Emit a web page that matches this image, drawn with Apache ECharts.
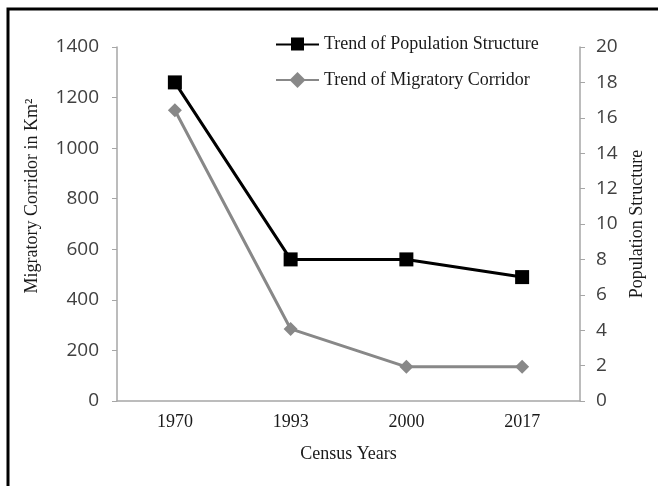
<!DOCTYPE html>
<html><head><meta charset="utf-8">
<script src="https://cdn.jsdelivr.net/npm/echarts@6/dist/echarts.min.js"></script>
<style>html,body{margin:0;padding:0;background:#fff}#c{width:658px;height:486px}</style>
</head><body><div id="c"></div>
<script>
const years = ['1970', '1993', '2000', '2017'];
const populationStructure = [18, 8, 8, 7];
const migratoryCorridor = [1150, 285, 135, 135];
const leftTicks = {min: 0, max: 1400, interval: 200};
const rightTicks = {min: 0, max: 20, interval: 2};

const serif = '"Liberation Serif", "DejaVu Serif", serif';
const sans = '"Open Sans", "Liberation Sans", sans-serif';
const axisGray = '#a6a6a6';
const labelGray = '#404040';

const chart = echarts.init(document.getElementById('c'));
chart.setOption({
  animation: false,
  backgroundColor: '#fff',
  graphic: [{
    type: 'rect', shape: {x: 8, y: 9, width: 700, height: 600},
    style: {fill: 'none', stroke: '#000', lineWidth: 3}, z: 100
  }],
  grid: {left: 117, right: 78, top: 47, bottom: 85},
  legend: {
    orient: 'vertical', left: 270, top: 30, itemGap: 18,
    itemWidth: 43, itemHeight: 20,
    textStyle: {fontFamily: serif, fontSize: 18, color: '#1a1a1a'},
    data: [
      {name: 'Trend of Population Structure', icon: 'path://M0,9 L43,9 L43,11 L0,11 Z M15,3 L28,3 L28,16 L15,16 Z'},
      {name: 'Trend of Migratory Corridor'}
    ]
  },
  xAxis: {
    type: 'category', data: years, boundaryGap: true,
    name: 'Census Years', nameLocation: 'middle', nameGap: 44,
    nameTextStyle: {fontFamily: serif, fontSize: 18, color: '#1a1a1a'},
    axisLine: {lineStyle: {color: axisGray, width: 1.5}},
    axisTick: {alignWithLabel: true, length: 5, lineStyle: {color: axisGray}},
    axisLabel: {fontFamily: serif, fontSize: 18, color: '#1a1a1a', margin: 12}
  },
  yAxis: [{
    type: 'value', position: 'left', ...leftTicks,
    name: 'Migratory Corridor in Km²', nameLocation: 'middle', nameGap: 76,
    nameTextStyle: {fontFamily: serif, fontSize: 18, color: '#1a1a1a', padding: [0, 0, 0, 56]},
    axisLine: {show: true, lineStyle: {color: axisGray, width: 1.5}},
    axisTick: {show: true, length: 5, lineStyle: {color: axisGray}},
    splitLine: {show: false},
    axisLabel: {fontFamily: sans, fontSize: 19, color: labelGray, margin: 18, formatter: v => String(v)}
  }, {
    type: 'value', position: 'right', ...rightTicks,
    name: 'Population Structure', nameLocation: 'middle', nameGap: 48,
    nameTextStyle: {fontFamily: serif, fontSize: 18, color: '#1a1a1a'},
    axisLine: {show: true, lineStyle: {color: axisGray, width: 1.5}},
    axisTick: {show: true, length: 5, lineStyle: {color: axisGray}},
    splitLine: {show: false},
    axisLabel: {fontFamily: sans, fontSize: 19, color: labelGray, margin: 16}
  }],
  series: [{
    name: 'Trend of Population Structure', type: 'line', yAxisIndex: 1,
    data: populationStructure,
    symbol: 'rect', symbolSize: 14,
    lineStyle: {color: '#000', width: 3}, itemStyle: {color: '#000'}, z: 3
  }, {
    name: 'Trend of Migratory Corridor', type: 'line', yAxisIndex: 0,
    data: migratoryCorridor,
    symbol: 'diamond', symbolSize: 14,
    lineStyle: {color: '#888', width: 3}, itemStyle: {color: '#888'}, z: 2
  }]
});
</script></body></html>
